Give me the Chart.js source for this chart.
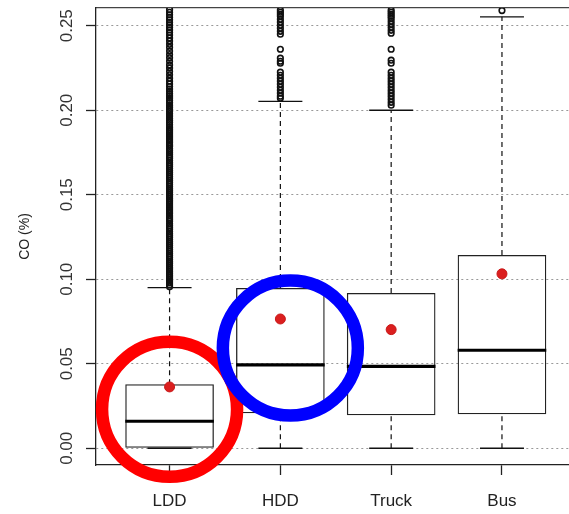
<!DOCTYPE html>
<html>
<head>
<meta charset="utf-8">
<script src="https://cdn.jsdelivr.net/npm/chart.js@4.4.1/dist/chart.umd.min.js"></script>
<style>
  body { margin: 0; background: #fff; }
  #wrap { width: 569px; height: 514px; }
</style>
</head>
<body>
<div id="wrap"><canvas id="myChart" width="569" height="514"></canvas></div>
<script>
// data block
const categories = ['LDD', 'HDD', 'Truck', 'Bus'];
const q1 = [0.0000, 0.0207, 0.0195, 0.0201];
const median = [0.0160, 0.0493, 0.0485, 0.0580];
const q3 = [0.0379, 0.0948, 0.0919, 0.1144];
const mean = [0.0363, 0.0765, 0.0702, 0.1032];
const whiskerLow = [0, 0, 0, 0];
const whiskerHigh = [0.0950, 0.2052, 0.2000, 0.2553];

const outliersLDD = [
    0.0955, 0.0966, 0.0978, 0.0990, 0.1001, 0.1013, 0.1024, 0.1036, 0.1048, 0.1060, 0.1071, 0.1083, 0.1095,
    0.1106, 0.1118, 0.1130, 0.1141, 0.1153, 0.1165, 0.1176, 0.1188, 0.1200,
    0.1212, 0.1223, 0.1235, 0.1247, 0.1258, 0.1270, 0.1282, 0.1296,
    0.1305, 0.1317, 0.1328, 0.1343, 0.1352, 0.1363, 0.1375, 0.1387, 0.1398,
    0.1410, 0.1422, 0.1433, 0.1445, 0.1457, 0.1468, 0.1480, 0.1492,
    0.1503, 0.1515, 0.1527, 0.1538, 0.1550, 0.1562, 0.1573, 0.1585, 0.1597,
    0.1608, 0.1620, 0.1632, 0.1643, 0.1655, 0.1667, 0.1678, 0.1690,
    0.1702, 0.1716, 0.1725, 0.1737, 0.1748, 0.1760, 0.1772, 0.1786, 0.1795,
    0.1807, 0.1818, 0.1830, 0.1842, 0.1853, 0.1865, 0.1877, 0.1888,
    0.1900, 0.1914, 0.1928, 0.1940, 0.1952, 0.1966, 0.1980, 0.1993,
    0.2005, 0.2018, 0.2030, 0.2045, 0.2058, 0.2072, 0.2085, 0.2098, 0.2112, 0.2125, 0.2140,
    0.2155, 0.2172, 0.2190, 0.2210, 0.2230, 0.2250, 0.2268, 0.2290, 0.2310, 0.2330,
    0.2350, 0.2372, 0.2390, 0.2410, 0.2428, 0.2445, 0.2460, 0.2475, 0.2490, 0.2505,
    0.2520, 0.2535, 0.2550, 0.2565, 0.2580, 0.2595
];
const outliersHDD = [
    0.2071, 0.2083, 0.2101, 0.2118, 0.2136, 0.2154, 0.2172, 0.2189, 0.2207, 0.2225,
    0.2278, 0.2290, 0.2308, 0.2361,
    0.2450, 0.2467, 0.2485, 0.2503, 0.2521, 0.2538, 0.2556, 0.2568, 0.2580, 0.2592
];
const outliersTruck = [
    0.2030, 0.2047, 0.2065, 0.2083, 0.2101, 0.2118, 0.2136, 0.2154, 0.2172, 0.2189, 0.2207, 0.2225,
    0.2278, 0.2296, 0.2361,
    0.2456, 0.2473, 0.2491, 0.2509, 0.2527, 0.2544, 0.2556, 0.2568, 0.2580, 0.2592
];
const outliersBus = [0.2590];

const yTicks = [0.00, 0.05, 0.10, 0.15, 0.20, 0.25];
// the two hand drawn rings (centre in data units)
const highlightX = [1.0, 2.09];
const highlightY = [0.0231, 0.0593];
const highlightColors = ['#ff0000', '#0000ff'];

// setup block
const pos = categories.map((c, i) => i + 1);
const boxes = pos.map((x, i) => ({x: x, y: [q1[i], q3[i]]}));
const medians = pos.map((x, i) => ({x: x, y: median[i]}));
const means = pos.map((x, i) => ({x: x, y: mean[i]}));
const caps = [];
const whiskers = [];
pos.forEach((x, i) => {
    caps.push({x: x, y: whiskerHigh[i]}, {x: x, y: whiskerLow[i]});
    whiskers.push({x: x, y: q3[i]}, {x: x, y: whiskerHigh[i]}, {x: x, y: null});
    if (q1[i] > whiskerLow[i]) {
        whiskers.push({x: x, y: whiskerLow[i]}, {x: x, y: q1[i]}, {x: x, y: null});
    }
});
const outliers = [];
[outliersLDD, outliersHDD, outliersTruck, outliersBus].forEach((list, i) => {
    list.forEach(v => outliers.push({x: pos[i], y: v}));
});
const highlights = highlightX.map((x, i) => ({x: x, y: highlightY[i]}));

Chart.defaults.font.family = '"Liberation Sans", Arial, sans-serif';
Chart.defaults.color = '#222';

const data = {
    datasets: [
        {
            type: 'scatter', data: highlights, order: 0, clip: false,
            pointStyle: 'circle', pointRadius: 67.5, pointBorderWidth: 12.5,
            pointBorderColor: highlightColors, pointBackgroundColor: 'rgba(0,0,0,0)'
        },
        {
            type: 'scatter', data: means, order: 1,
            pointRadius: 5, pointBorderWidth: 1,
            pointBackgroundColor: '#db1f1f', pointBorderColor: '#c81818'
        },
        {
            type: 'scatter', data: medians, order: 2,
            pointStyle: 'line', pointRadius: 44.3, pointBorderWidth: 3.2, pointBorderColor: '#000'
        },
        {
            type: 'scatter', data: outliers, order: 3,
            pointStyle: 'circle', pointRadius: 2.8, pointBorderWidth: 1.6,
            pointBorderColor: '#111', pointBackgroundColor: 'rgba(0,0,0,0)'
        },
        {
            type: 'scatter', data: caps, order: 4,
            pointStyle: 'line', pointRadius: 22, pointBorderWidth: 1.3, pointBorderColor: '#111'
        },
        {
            type: 'line', data: whiskers, order: 5,
            borderColor: '#111', borderWidth: 1.2, borderDash: [5, 4],
            pointRadius: 0, spanGaps: false, tension: 0
        },
        {
            type: 'bar', data: boxes, order: 6,
            backgroundColor: 'rgba(0,0,0,0)', borderColor: '#222', borderWidth: 1.3,
            borderSkipped: false, barPercentage: 0.8, categoryPercentage: 1.0
        }
    ]
};

// config block
const config = {
    type: 'scatter',
    data,
    options: {
        responsive: false,
        animation: false,
        layout: { autoPadding: false, padding: { top: 8, right: 0, bottom: 0, left: 0 } },
        plugins: { legend: { display: false }, tooltip: { enabled: false } },
        scales: {
            x: {
                type: 'linear', position: 'bottom',
                min: 0.336, max: 4.605, offset: false,
                afterBuildTicks: s => { s.ticks = pos.map(v => ({value: v})); },
                afterFit: s => { s.height = 49; s.paddingLeft = 0; s.paddingRight = 0; },
                ticks: {
                    callback: v => categories[v - 1],
                    font: { size: 17 }, color: '#222', padding: 16,
                    maxRotation: 0, autoSkip: false
                },
                grid: { offset: false, drawOnChartArea: false, tickLength: 10, tickColor: '#222', tickWidth: 1.3 },
                border: { display: true, color: '#222', width: 1.3 }
            },
            x2: {
                type: 'linear', position: 'top',
                min: 0.336, max: 4.605, offset: false,
                afterFit: s => { s.height = 0; s.paddingLeft = 0; s.paddingRight = 0; },
                ticks: { display: false },
                grid: { display: false, drawTicks: false, offset: false },
                border: { display: true, color: '#444', width: 1.3 }
            },
            y: {
                type: 'linear', position: 'left',
                min: -0.0099, max: 0.2605,
                afterBuildTicks: s => { s.ticks = yTicks.map(v => ({value: v})); },
                afterFit: s => { s.width = 96; s.paddingTop = 0; s.paddingBottom = 0; },
                ticks: {
                    callback: v => v.toFixed(2),
                    font: { size: 17 }, color: '#333',
                    minRotation: 90, maxRotation: 90, crossAlign: 'center', padding: 2
                },
                title: {
                    display: true, text: 'CO (%)', font: { size: 14 }, color: '#222',
                    padding: { top: 17, bottom: 0 }
                },
                grid: { color: '#999', lineWidth: 1, tickLength: 10, tickColor: '#222', tickWidth: 1.3 },
                border: { display: true, color: '#222', width: 1.3, dash: [2, 3] }
            }
        }
    }
};

// init block
const myChart = new Chart(document.getElementById('myChart'), config);
</script>
</body>
</html>
